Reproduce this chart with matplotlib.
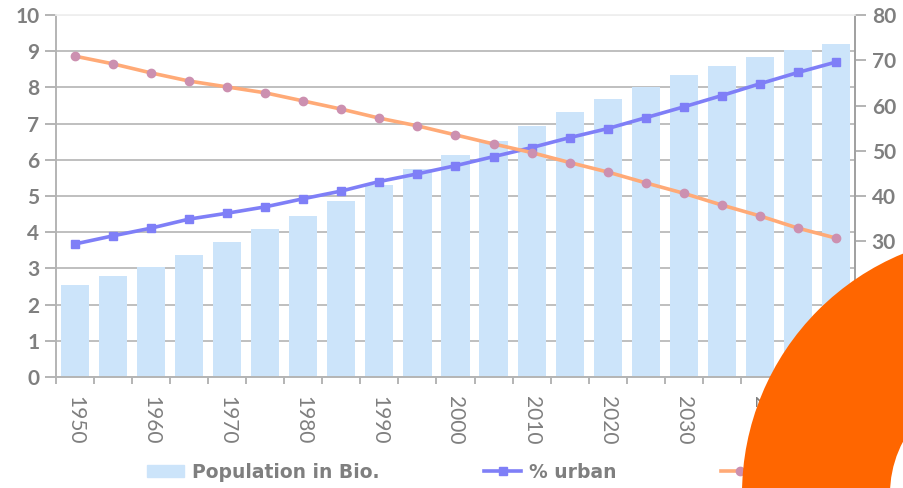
import matplotlib
matplotlib.use("Agg")
import matplotlib.pyplot as plt
import numpy as np
from matplotlib.patches import Patch, Circle
from matplotlib.lines import Line2D

years = list(range(1950, 2051, 5))
population = [2.55, 2.80, 3.05, 3.36, 3.72, 4.10, 4.46, 4.87, 5.30, 5.75, 6.13,
              6.52, 6.93, 7.32, 7.68, 8.00, 8.34, 8.59, 8.84, 9.03, 9.20]
urban = [29.4, 31.2, 32.9, 34.9, 36.2, 37.6, 39.4, 41.1, 43.2, 44.9, 46.7,
         48.7, 50.7, 52.9, 54.9, 57.3, 59.7, 62.2, 64.8, 67.3, 69.6]
rural = [70.9, 69.2, 67.2, 65.4, 64.1, 62.8, 61.0, 59.2, 57.2, 55.5, 53.5,
         51.5, 49.6, 47.4, 45.3, 42.9, 40.6, 38.0, 35.6, 32.9, 30.7]
labels = ["Population in Bio.", "% urban", "% rural"]

gray = "#7f7f7f"
bar_col = "#cce4fa"
urban_col = "#7f7ff7"
rural_col = "#ffaa77"
rural_mk = "#cc90b0"

fig = plt.figure(figsize=(9.04, 4.88), dpi=100)
ax = fig.add_axes([56/904, 1-377/488, (855-56)/904, (377-15)/488])
ax2 = ax.twinx()

x = np.arange(len(years))
ax.bar(x, population, width=0.74, color=bar_col, zorder=2)
ax.set_xlim(-0.5, len(years) - 0.5)
ax.set_ylim(0, 10)
ax.set_yticks(range(0, 11))
ax.yaxis.grid(True, color="#b4b4b4", lw=1.2, zorder=0)
ax.set_axisbelow(True)

ax2.plot(x, urban, color=urban_col, lw=2.6, marker="s", ms=6, mfc=urban_col, mec=urban_col, zorder=3)
ax2.plot(x, rural, color=rural_col, lw=2.6, marker="o", ms=6, mfc=rural_mk, mec=rural_mk, zorder=3)
ax2.set_ylim(0, 80)
ax2.set_yticks(range(0, 81, 10))

ax.set_xticks(x[::2])
ax.set_xticklabels([str(y) for y in years[::2]], rotation=270, fontsize=15,
                   family=["Liberation Sans Narrow", "Lato"], color=gray)
ax.set_xticks(np.arange(-0.5, len(years), 1), minor=True)
ax.tick_params(axis="x", which="major", length=0, pad=14)
ax.tick_params(axis="x", which="minor", length=5, color="#a8a8a8", width=1.2)
ax.tick_params(axis="y", length=8, color="#a8a8a8", width=1.2, pad=4)
ax2.tick_params(axis="y", length=8, color="#a8a8a8", width=1.2, pad=4)
for t in ax.get_yticklabels() + ax2.get_yticklabels():
    t.set_fontsize(15)
    t.set_fontweight("bold")
    t.set_family("Lato")
    t.set_color(gray)

for a in (ax, ax2):
    a.spines["top"].set_color("#f0f0f0")
    a.spines["left"].set_color("#b4b4b4")
    a.spines["right"].set_color("#a0a0a0")
    a.spines["bottom"].set_color("#b4b4b4")
    for s in a.spines.values():
        s.set_linewidth(1.2)

handles = [Patch(color=bar_col),
           Line2D([], [], color=urban_col, lw=2.6, marker="s", ms=6),
           Line2D([], [], color=rural_col, lw=2.6, marker="o", ms=6, mfc=rural_mk, mec=rural_mk)]
leg = fig.legend(handles, labels, loc="center left", bbox_to_anchor=(147/904, 1-472/488),
                 ncol=3, frameon=False, borderpad=0, borderaxespad=0,
                 handlelength=2.0, handleheight=0.65, handletextpad=0.4, columnspacing=5.57,
                 prop={"family": "DejaVu Sans", "weight": "bold", "size": 13.5})
for t in leg.get_texts():
    t.set_color(gray)

# decorative orange ring in the bottom-right corner, above everything
ov = fig.add_axes([0, 0, 1, 1])
ov.set_zorder(10)
ov.set_xlim(0, 904)
ov.set_ylim(488, 0)
ov.axis("off")
ov.add_patch(Circle((1002, 494), 260, color="#ff6600", lw=0))
ov.add_patch(Circle((1002, 494), 112, color="white", lw=0))

fig.savefig("out.png", dpi=100)
